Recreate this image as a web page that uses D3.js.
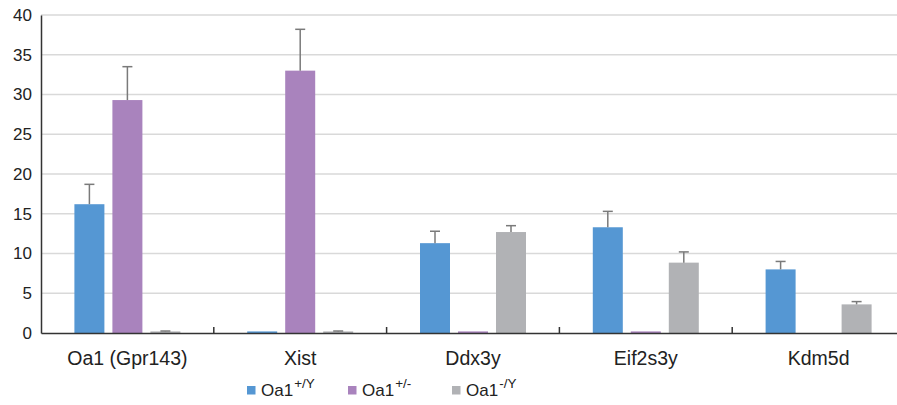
<!DOCTYPE html>
<html><head><meta charset="utf-8">
<script src="https://cdn.jsdelivr.net/npm/d3@7"></script>
<style>body{margin:0;background:#fff}svg{display:block;font-family:"Liberation Sans",Arial,sans-serif}</style>
</head><body><svg id="c" width="897" height="405"></svg>
<script>
const categories = ["Oa1 (Gpr143)", "Xist", "Ddx3y", "Eif2s3y", "Kdm5d"];
const seriesNames = ["+/Y", "+/-", "-/Y"];
const seriesColors = ["#5597D3", "#A983BD", "#B1B2B5"];
const valuesWT = [16.2, 0.2, 11.3, 13.3, 8.0];
const valuesHet = [29.3, 33.0, 0.2, 0.2, 0];
const valuesKO = [0.2, 0.2, 12.7, 8.85, 3.6];
const errWT = [2.5, 0, 1.5, 2.0, 1.0];
const errHet = [4.2, 5.2, 0, 0, 0];
const errKO = [0.05, 0.05, 0.8, 1.35, 0.35];
const yTicks = [0, 5, 10, 15, 20, 25, 30, 35, 40];

const values = [valuesWT, valuesHet, valuesKO];
const errs = [errWT, errHet, errKO];
const svg = d3.select("#c");
const x0 = d3.scaleBand().domain(categories).range([41, 905]).padding(0);
const x1 = d3.scaleBand().domain([0,1,2]).range([0, 114]).paddingInner(8/38).paddingOuter(4/38);
const y = d3.scaleLinear().domain([0, 40]).range([333, 15]);

// gridlines
svg.append("g").selectAll("line").data(yTicks.slice(1)).join("line")
  .attr("x1", 41).attr("x2", 897).attr("y1", d => y(d)).attr("y2", d => y(d))
  .attr("stroke", "#d9d9d9").attr("stroke-width", 1.5);

// bars
const g = svg.append("g");
categories.forEach((c, ci) => {
  const gx = x0(c) + (x0.bandwidth() - 114) / 2;
  values.forEach((vals, si) => {
    const v = vals[ci];
    if (v > 0) {
      g.append("rect").attr("x", gx + x1(si)).attr("y", y(v))
        .attr("width", x1.bandwidth()).attr("height", y(0) - y(v))
        .attr("fill", seriesColors[si]);
      const e = errs[si][ci];
      if (e > 0) {
        const cx = gx + x1(si) + x1.bandwidth() / 2;
        g.append("line").attr("x1", cx).attr("x2", cx).attr("y1", y(v)).attr("y2", y(v + e))
          .attr("stroke", "#7a7a7a").attr("stroke-width", 1.5);
        g.append("line").attr("x1", cx - 5).attr("x2", cx + 5).attr("y1", y(v + e)).attr("y2", y(v + e))
          .attr("stroke", "#7a7a7a").attr("stroke-width", 1.5);
      }
    }
  });
});

// y axis
const ya = svg.append("g").attr("transform", "translate(41,0)")
  .call(d3.axisLeft(y).tickValues(yTicks).tickSize(0).tickPadding(9));
ya.select(".domain").attr("stroke", "#333").attr("stroke-width", 1.5);
ya.selectAll("text").attr("font-size", 17).attr("fill", "#222").attr("font-family", "Liberation Sans, Arial, sans-serif");

// x axis
const xa = svg.append("g").attr("transform", "translate(0,333)")
  .call(d3.axisBottom(x0).tickSize(0));
xa.select(".domain").attr("stroke", "#333").attr("stroke-width", 1.5);
xa.selectAll("text").attr("font-size", 19.5).attr("fill", "#222").attr("y", 32).attr("dy", 0).attr("font-family", "Liberation Sans, Arial, sans-serif");
// inner boundary ticks
svg.append("g").selectAll("line").data(categories.slice(1)).join("line")
  .attr("x1", d => x0(d)).attr("x2", d => x0(d)).attr("y1", 333).attr("y2", 327)
  .attr("stroke", "#333").attr("stroke-width", 1.5);

// legend
const legX = [247, 348, 452];
const leg = svg.append("g");
seriesNames.forEach((s, i) => {
  leg.append("rect").attr("x", legX[i]).attr("y", 386).attr("width", 8.5).attr("height", 8.5).attr("fill", seriesColors[i]);
  const t = leg.append("text").attr("x", legX[i] + 14).attr("y", 395.5).attr("font-size", 17).attr("fill", "#222");
  t.append("tspan").text("Oa1");
  t.append("tspan").attr("font-size", 13.5).attr("dx", 1).attr("dy", -8).text(s);
});
</script></body></html>
